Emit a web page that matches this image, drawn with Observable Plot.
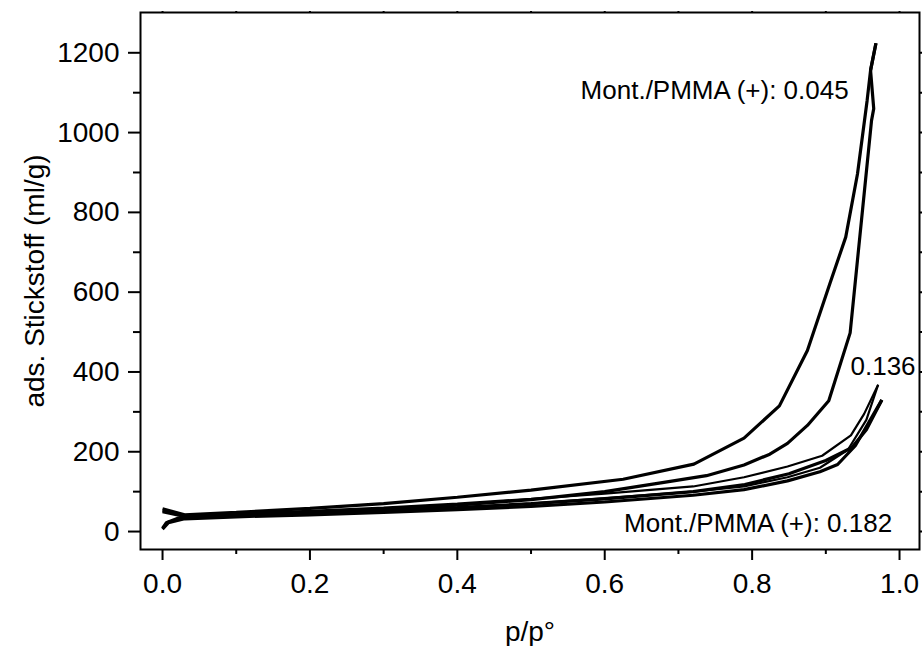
<!DOCTYPE html>
<html>
<head>
<meta charset="utf-8">
<script src="https://cdn.jsdelivr.net/npm/d3@7"></script>
<script src="https://cdn.jsdelivr.net/npm/@observablehq/plot@0.6"></script>
<style>
  html, body { margin: 0; padding: 0; background: #fff; }
  #chart { width: 922px; height: 646px; }
</style>
</head>
<body>
<div id="chart"></div>
<script>
// ---- Data ----
const p045ads = [0, 0.005, 0.02, 0.05, 0.1, 0.2, 0.3, 0.4, 0.5, 0.6, 0.676, 0.738, 0.789, 0.824, 0.848, 0.875, 0.904, 0.933, 0.962, 0.965, 0.9607, 0.968];
const v045ads = [8, 22, 33, 38, 42, 48, 56, 66, 80, 100, 122, 140, 167, 194, 221, 266, 328, 498, 1030, 1060, 1156, 1224];
const p045des = [0.968, 0.9607, 0.956, 0.943, 0.927, 0.906, 0.875, 0.837, 0.789, 0.721, 0.625, 0.5, 0.4, 0.3, 0.2, 0.1, 0.03, 0];
const v045des = [1224, 1156, 1080, 897, 738, 624, 454, 315, 234, 169, 131, 104, 86, 70, 58, 48, 42, 57];

const p136ads = [0, 0.008, 0.03, 0.1, 0.2, 0.3, 0.4, 0.5, 0.6, 0.72, 0.789, 0.848, 0.892, 0.93, 0.955, 0.971];
const v136ads = [10, 25, 34, 40, 45, 52, 60, 70, 84, 100, 113, 136, 160, 205, 280, 368];
const p136des = [0.971, 0.952, 0.934, 0.895, 0.848, 0.789, 0.72, 0.6, 0.5, 0.4, 0.3, 0.2, 0.1, 0.03, 0];
const v136des = [368, 295, 241, 190, 163, 136, 113, 95, 82, 70, 60, 52, 45, 40, 52];

const p182ads = [0, 0.008, 0.03, 0.1, 0.2, 0.3, 0.4, 0.5, 0.6, 0.72, 0.789, 0.848, 0.892, 0.916, 0.94, 0.976];
const v182ads = [6, 22, 32, 37, 42, 48, 55, 63, 74, 91, 105, 127, 150, 168, 215, 330];
const p182des = [0.976, 0.955, 0.935, 0.9, 0.85, 0.79, 0.72, 0.6, 0.5, 0.4, 0.3, 0.2, 0.1, 0.03, 0];
const v182des = [330, 255, 210, 178, 145, 118, 100, 82, 70, 60, 52, 45, 40, 38, 50];

const xMajor = [0, 0.2, 0.4, 0.6, 0.8, 1.0];
const xMinor = [0.1, 0.3, 0.5, 0.7, 0.9];
const yMajor = [0, 200, 400, 600, 800, 1000, 1200];
const yMinor = [100, 300, 500, 700, 900, 1100];

const xLabel = "p/p°";
const yLabel = "ads. Stickstoff (ml/g)";
const endLabels = [
  {text: "Mont./PMMA (+): 0.045", p: 0.931, v: 1105},
  {text: "Mont./PMMA (+): 0.182", p: 0.990, v: 20}
];
const startLabels = [
  {text: "0.136", p: 0.9335, v: 414}
];

// ---- Build table ----
function toRows(name, ps, vs) {
  return ps.map((p, i) => ({series: name, p, v: vs[i]}));
}
const thick = [
  ...toRows("0.045 ads", p045ads, v045ads),
  ...toRows("0.045 des", p045des, v045des),
  ...toRows("0.182 ads", p182ads, v182ads),
  ...toRows("0.182 des", p182des, v182des)
];
const thin = [
  ...toRows("0.136 ads", p136ads, v136ads),
  ...toRows("0.136 des", p136des, v136des)
];

const font = "'Liberation Sans', Arial, Helvetica, sans-serif";

const chart = Plot.plot({
  width: 922,
  height: 646,
  marginLeft: 140,
  marginRight: 3,
  marginTop: 12,
  marginBottom: 97,
  style: {fontFamily: font, background: "#fff", color: "#000"},
  x: {domain: [-0.0299, 1.0271]},
  y: {domain: [-45, 1301]},
  marks: [
    Plot.frame({stroke: "#000", strokeWidth: 2}),
    Plot.axisX(xMajor, {anchor: "bottom", tickSize: 11, tickPadding: 13, tickFormat: d3.format(".1f"), fontSize: 28, strokeWidth: 2, label: null}),
    Plot.axisX(xMinor, {anchor: "bottom", tickSize: 5, tickFormat: () => "", strokeWidth: 2, label: null}),
    Plot.axisX([...xMajor, ...xMinor], {anchor: "top", tickSize: 2, tickFormat: () => "", strokeWidth: 2, label: null}),
    Plot.axisY(yMajor, {anchor: "left", tickSize: 12, tickPadding: 9, tickFormat: d3.format("d"), fontSize: 28, strokeWidth: 2, label: null}),
    Plot.axisY(yMinor, {anchor: "left", tickSize: 7, tickFormat: () => "", strokeWidth: 2, label: null}),
    Plot.axisY([...yMajor, ...yMinor], {anchor: "right", tickSize: 2, tickFormat: () => "", strokeWidth: 2, label: null}),
    Plot.line(thick, {x: "p", y: "v", z: "series", stroke: "#000", strokeWidth: 3.2, strokeLinejoin: "miter", strokeLinecap: "butt"}),
    Plot.line(thin, {x: "p", y: "v", z: "series", stroke: "#000", strokeWidth: 2.2, strokeLinejoin: "miter", strokeLinecap: "butt"}),
    Plot.text(endLabels, {x: "p", y: "v", text: "text", textAnchor: "end", lineAnchor: "middle", fontSize: 26, fill: "#000"}),
    Plot.text(startLabels, {x: "p", y: "v", text: "text", textAnchor: "start", lineAnchor: "middle", fontSize: 26, fill: "#000"}),
    Plot.text([xLabel], {frameAnchor: "bottom", dy: 91, lineAnchor: "bottom", textAnchor: "middle", fontSize: 28, fill: "#000"}),
    Plot.text([yLabel], {frameAnchor: "left", dx: -97, rotate: -90, lineAnchor: "bottom", textAnchor: "middle", fontSize: 28, fill: "#000"})
  ]
});
document.getElementById("chart").appendChild(chart);
</script>
</body>
</html>
